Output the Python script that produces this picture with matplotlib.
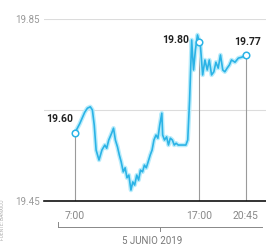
import pandas as pd
import matplotlib.pyplot as plt
from matplotlib.lines import Line2D

# peso per dollar, 5 June 2019
times = ['07:00', '07:23', '07:47', '08:00', '08:14', '08:24', '08:33', '08:42', '08:56',
         '09:10', '09:24', '09:33', '09:43', '09:57', '10:06', '10:15', '10:25', '10:34',
         '10:43', '10:53', '11:02', '11:11', '11:20', '11:30', '11:39', '11:48', '11:58',
         '12:07', '12:16', '12:26', '12:35', '12:44', '12:53', '13:03', '13:12', '13:21',
         '13:31', '13:40', '13:49', '13:59', '14:03', '14:12', '14:22', '14:31', '14:40',
         '14:50', '14:59', '15:08', '15:18', '15:32', '15:55', '16:04', '16:13', '16:23',
         '16:32', '16:41', '16:51', '17:00', '17:05', '17:16', '17:27', '17:38', '17:48',
         '17:59', '18:10', '18:20', '18:31', '18:42', '18:53', '19:03', '19:14', '19:25',
         '19:35', '19:52', '20:08', '20:24', '20:45']
rate = [19.60, 19.62, 19.645, 19.654, 19.657, 19.65, 19.617, 19.562, 19.54,
        19.562, 19.573, 19.566, 19.584, 19.599, 19.61, 19.584, 19.569, 19.551,
        19.536, 19.514, 19.523, 19.501, 19.507, 19.474, 19.492, 19.485, 19.507,
        19.496, 19.518, 19.514, 19.529, 19.523, 19.536, 19.551, 19.562, 19.584,
        19.595, 19.588, 19.617, 19.643, 19.595, 19.584, 19.591, 19.573, 19.588,
        19.584, 19.573, 19.577, 19.573, 19.573, 19.573, 19.584, 19.672, 19.804,
        19.738, 19.782, 19.815, 19.80, 19.793, 19.727, 19.76, 19.738, 19.76,
        19.727, 19.734, 19.755, 19.742, 19.771, 19.738, 19.734, 19.742, 19.749,
        19.76, 19.755, 19.764, 19.766, 19.77]

marks = ['07:00', '17:00', '20:45']
mark_vals = [19.60, 19.80, 19.77]
tick_labels = ['7:00', '17:00', '20:45']
y_ticks = [19.45, 19.65, 19.85]
y_labels = ['19.45', '', '19.85']

def hours(t):
    h, m = t.split(':')
    return int(h) + int(m) / 60

df = pd.DataFrame({'t': [hours(t) for t in times], 'rate': rate})
mx = [hours(t) for t in marks]

plt.rcParams['font.family'] = ['Roboto', 'DejaVu Sans']
fig = plt.figure(figsize=(2.66, 2.47), dpi=100)
ax = fig.add_axes([44 / 266, 1 - 201 / 247, 222 / 266, 182 / 247])

for x, v in zip(mx, mark_vals):
    ax.vlines(x, 19.45, v, color='#9a9a9a', lw=0.8, zorder=1)

ax.plot(df['t'], df['rate'], color='#b9ecfb', lw=3.2, zorder=2, solid_joinstyle='round')
ax.plot(df['t'], df['rate'], color='#2bb3e6', lw=1.2, zorder=3, solid_joinstyle='round')
ax.scatter(mx, mark_vals, s=22, facecolor='white', edgecolor='#2bb3e6', lw=1.1, zorder=4)

offsets = [(-11, 10), (-17, 1), (1, 10)]
for x, v, off in zip(mx, mark_vals, offsets):
    ax.annotate(f'{v:.2f}', (x, v), xytext=off, textcoords='offset points',
                ha='center', va='center', fontsize=7.5, fontweight='bold', color='#222')

ax.set_xlim(4.51, 22.36)
ax.set_ylim(19.45, 19.85)
ax.set_yticks(y_ticks)
ax.set_yticklabels(y_labels)
ax.set_xticks(mx)
ax.set_xticklabels(tick_labels)
ax.tick_params(axis='y', length=0, labelsize=7, labelcolor='#999', pad=3)
ax.tick_params(axis='x', length=0, labelsize=7.5, labelcolor='#888', pad=7)
ax.grid(axis='y', color='#dcdcdc', lw=0.8)
ax.set_axisbelow(True)
for s in ['top', 'right', 'left']:
    ax.spines[s].set_visible(False)
ax.spines['bottom'].set_color('#111')
ax.spines['bottom'].set_linewidth(1.2)

# date bracket under the axis
fig.add_artist(Line2D([58 / 266, 262 / 266], [1 - 227 / 247] * 2, color='#888', lw=0.7))
fig.add_artist(Line2D([58 / 266, 58 / 266], [1 - 227 / 247, 1 - 222 / 247], color='#888', lw=0.7))
fig.add_artist(Line2D([160 / 266, 160 / 266], [1 - 227 / 247, 1 - 231 / 247], color='#888', lw=0.7))
fig.text(152 / 266, 1 - 241 / 247, '5 JUNIO 2019', ha='center', va='center', fontsize=7, color='#777')
fig.text(3 / 266, 1 - 220 / 247, 'FUENTE: BANXICO', rotation=90, ha='center', va='center',
         fontsize=3.5, color='#aaa')

fig.savefig('out.png', dpi=100)
